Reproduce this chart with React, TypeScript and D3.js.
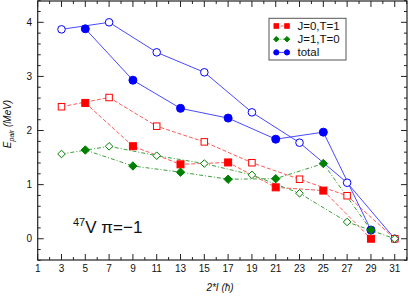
import React from 'react'
import * as d3 from 'd3'

// x values (2*I)
const xFilled = [5, 9, 13, 17, 21, 25, 29]
const xOpen = [3, 7, 11, 15, 19, 23, 27, 31]

// J=0,T=1
const redFilled = [2.51, 1.71, 1.375, 1.41, 0.95, 0.89, 0.0]
const redOpen = [2.44, 2.61, 2.08, 1.79, 1.405, 1.1, 0.795, 0.0]
// J=1,T=0
const greenFilled = [1.64, 1.345, 1.23, 1.1, 1.11, 1.39, 0.16]
const greenOpen = [1.566, 1.708, 1.535, 1.39, 1.18, 0.84, 0.31, 0.0]
// total
const blueFilled = [3.88, 2.93, 2.41, 2.23, 1.84, 1.97, 0.16]
const blueOpen = [3.87, 4.0, 3.445, 3.076, 2.336, 1.775, 1.035, 0.0]

const xTicks = [1, 3, 5, 7, 9, 11, 13, 15, 17, 19, 21, 23, 25, 27, 29, 31]
const yTicks = [0, 1, 2, 3, 4]
const legendLabels = ['J=0,T=1', 'J=1,T=0', 'total']

const W = 409
const H = 296
const left = 37.7
const right = 407
const top = 1
const bottom = 260

const x = d3.scaleLinear().domain([1, 32.03]).range([left, right])
const y = d3.scaleLinear().domain([-0.393, 4.394]).range([bottom, top])

const font = 'Liberation Sans, Arial, sans-serif'

type Marker = 'square' | 'diamond' | 'circle'

function Mark({ cx, cy, shape, color, filled, k = 1 }: { cx: number; cy: number; shape: Marker; color: string; filled: boolean; k?: number }) {
  const fill = filled ? color : '#fff'
  if (shape === 'square') {
    const s = (filled ? 7 : 6.5) * k
    return <rect x={cx - s / 2} y={cy - s / 2} width={s} height={s} fill={fill} stroke={color} strokeWidth={1} />
  }
  if (shape === 'diamond') {
    const s = (filled ? 4.2 : 3.8) * k
    return <path d={`M${cx},${cy - s}L${cx + s},${cy}L${cx},${cy + s}L${cx - s},${cy}Z`} fill={fill} stroke={color} strokeWidth={1} />
  }
  return <circle cx={cx} cy={cy} r={(filled ? 4 : 3.8) * k} fill={fill} stroke={color} strokeWidth={1} />
}

const series = [
  { color: '#ff0000', line: '#ff5a5a', dash: '4,2', legendDash: '2.5,2', shape: 'square' as Marker, filled: redFilled, open: redOpen },
  { color: '#008000', line: '#3ca03c', dash: '4,2,1,2', legendDash: '2.5,1.5,1,1.5', shape: 'diamond' as Marker, filled: greenFilled, open: greenOpen },
  { color: '#0000ff', line: '#4a4aff', dash: 'none', legendDash: 'none', shape: 'circle' as Marker, filled: blueFilled, open: blueOpen },
]

export default function App() {
  const line = d3.line<[number, number]>().x((d) => x(d[0])).y((d) => y(d[1]))
  const minorX = d3.range(1, 33, 1)
  const minorY = d3.range(-0.4, 4.41, 0.2).map((v) => Math.round(v * 10) / 10)

  return (
    <svg width={W} height={H} style={{ position: 'absolute', left: 0, top: 0 }}>
      <rect width={W} height={H} fill="#fff" />
      {/* ticks */}
      {minorX.map((v) => {
        const major = v % 2 === 1
        const len = major ? 6 : 3
        return (
          <g key={'xt' + v} stroke="#222" strokeWidth={1}>
            <line x1={x(v)} x2={x(v)} y1={bottom} y2={bottom - len} />
            <line x1={x(v)} x2={x(v)} y1={top} y2={top + len} />
          </g>
        )
      })}
      {minorY.map((v) => {
        const major = Math.abs(v - Math.round(v)) < 1e-6
        const len = major ? 6 : 3
        return (
          <g key={'yt' + v} stroke="#222" strokeWidth={1}>
            <line x1={left} x2={left + len} y1={y(v)} y2={y(v)} />
            <line x1={right} x2={right - len} y1={y(v)} y2={y(v)} />
          </g>
        )
      })}
      <rect x={left} y={top} width={right - left} height={bottom - top} fill="none" stroke="#222" strokeWidth={1.2} />
      {xTicks.map((v) => (
        <text key={'xl' + v} x={x(v)} y={272} textAnchor="middle" fontFamily={font} fontSize={10} fill="#111">{v}</text>
      ))}
      {yTicks.map((v) => (
        <text key={'yl' + v} x={32} y={y(v) + 3.6} textAnchor="end" fontFamily={font} fontSize={10} fill="#111">{v}</text>
      ))}
      <text x={220} y={291} textAnchor="middle" fontFamily={font} fontSize={10} fontStyle="italic" fill="#111">2*I (ħ)</text>
      <text transform={`translate(11,${124}) rotate(-90)`} textAnchor="middle" fontFamily={font} fontSize={10} fontStyle="italic" fill="#111">
        E<tspan fontSize={7} dy={2.5}>pair</tspan><tspan dy={-2.5}> (MeV)</tspan>
      </text>
      {/* series */}
      {series.map((s, i) => (
        <g key={'s' + i}>
          <path d={line(xOpen.map((v, j) => [v, s.open[j]]))!} fill="none" stroke={s.line} strokeWidth={1} strokeDasharray={s.dash} />
          <path d={line(xFilled.map((v, j) => [v, s.filled[j]]))!} fill="none" stroke={s.line} strokeWidth={1} strokeDasharray={s.dash} />
        </g>
      ))}
      {[2, 0, 1].map((i) => {
        const s = series[i]
        return (
          <g key={'m' + i}>
            {xOpen.map((v, j) => (
              <Mark key={'o' + j} cx={x(v)} cy={y(s.open[j])} shape={s.shape} color={s.color} filled={false} />
            ))}
            {xFilled.map((v, j) => (
              <Mark key={'f' + j} cx={x(v)} cy={y(s.filled[j])} shape={s.shape} color={s.color} filled={true} />
            ))}
          </g>
        )
      })}
      {/* legend */}
      <rect x={269} y={18.3} width={77} height={41.7} fill="#fff" stroke="#555" strokeWidth={1} />
      {series.map((s, i) => {
        const ly = 26 + i * 13.2
        return (
          <g key={'lg' + i}>
            <line x1={276.3} x2={287} y1={ly} y2={ly} stroke={s.line} strokeWidth={1} strokeDasharray={s.legendDash} />
            <Mark cx={276.3} cy={ly} shape={s.shape} color={s.color} filled={true} k={0.65} />
            <Mark cx={287} cy={ly} shape={s.shape} color={s.color} filled={true} k={0.65} />
            <text x={297.5} y={ly + 4} fontFamily={font} fontSize={11.5} fill="#111">{legendLabels[i]}</text>
          </g>
        )
      })}
      <text x={73} y={232.5} fontFamily={font} fontSize={17} fill="#111">
        <tspan fontSize={11} dy={-7}>47</tspan><tspan dy={7}>V π=−1</tspan>
      </text>
    </svg>
  )
}
